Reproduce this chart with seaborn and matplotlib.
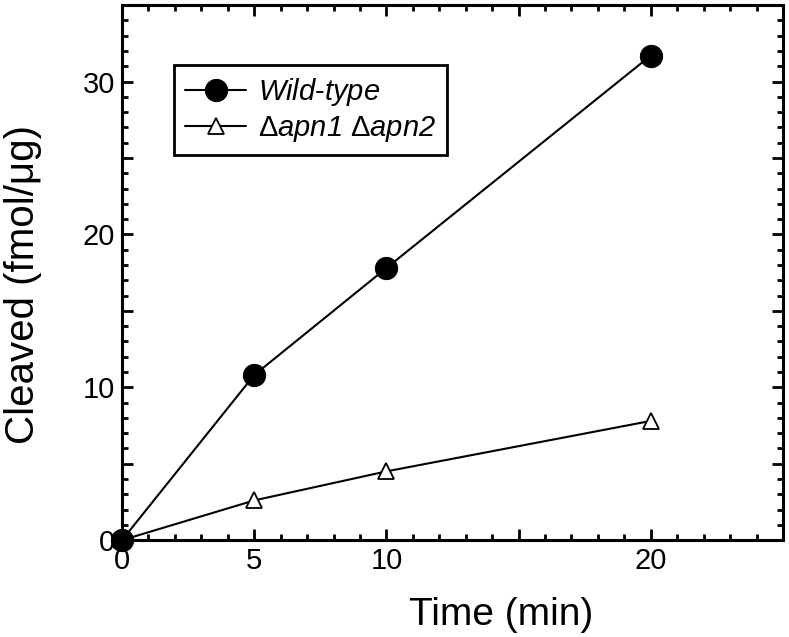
import matplotlib
matplotlib.use("Agg")
import matplotlib.pyplot as plt
import seaborn as sns
import pandas as pd
from matplotlib.ticker import MultipleLocator, FixedLocator, FixedFormatter

time = [0, 5, 10, 20]
wild_type = [0, 10.8, 17.8, 31.7]
double_mutant = [0, 2.6, 4.5, 7.8]
x_ticks = [0, 5, 10, 15, 20, 25]
x_labels = ["0", "5", "10", "", "20", ""]
y_ticks = [0, 5, 10, 15, 20, 25, 30, 35]
y_labels = ["0", "", "10", "", "20", "", "30", ""]
labels = [r"$\mathit{Wild}$-$\mathit{type}$", r"$\mathsf{\Delta}apn1\ \mathsf{\Delta}apn2$"]

sns.set_style("ticks")
plt.rcParams["font.family"] = ["Liberation Sans", "DejaVu Sans"]
plt.rcParams["mathtext.fontset"] = "custom"
plt.rcParams["mathtext.rm"] = "Liberation Sans:italic"
plt.rcParams["mathtext.it"] = "Liberation Sans:italic"
plt.rcParams["mathtext.sf"] = "Liberation Sans"
for k in ["text.color", "axes.labelcolor", "xtick.color", "ytick.color", "axes.edgecolor"]:
    plt.rcParams[k] = "black"

df = pd.concat([
    pd.DataFrame({"Time": time, "Cleaved": wild_type, "Strain": labels[0]}),
    pd.DataFrame({"Time": time, "Cleaved": double_mutant, "Strain": labels[1]}),
])

fig = plt.figure(figsize=(7.89, 6.37), dpi=100)
ax = fig.add_axes([0.1546, 0.152, 0.8378, 0.840])

sub = df[df.Strain == labels[0]]
sns.lineplot(data=sub, x="Time", y="Cleaved", ax=ax, color="black", lw=1.5,
             marker="o", markersize=16, markerfacecolor="black", markeredgecolor="black",
             label=labels[0], clip_on=False, zorder=4)
sub = df[df.Strain == labels[1]]
sns.lineplot(data=sub, x="Time", y="Cleaved", ax=ax, color="black", lw=1.5,
             marker="^", markersize=11, markerfacecolor="white", markeredgecolor="black",
             markeredgewidth=1.3, label=labels[1], clip_on=False, zorder=3)

ax.set_xlim(0, 25)
ax.set_ylim(0, 35)
ax.xaxis.set_major_locator(FixedLocator(x_ticks))
ax.xaxis.set_major_formatter(FixedFormatter(x_labels))
ax.yaxis.set_major_locator(FixedLocator(y_ticks))
ax.yaxis.set_major_formatter(FixedFormatter(y_labels))
ax.xaxis.set_minor_locator(MultipleLocator(1))
ax.yaxis.set_minor_locator(MultipleLocator(1))
ax.tick_params(which="both", direction="in", top=True, right=True, width=2, colors="black")
ax.tick_params(which="major", length=8, labelsize=21, pad=5)
ax.tick_params(which="minor", length=4)
for s in ax.spines.values():
    s.set_linewidth(2.2)
    s.set_color("black")
    s.set_visible(True)

ax.set_xlabel("Time (min)", fontsize=28)
ax.set_ylabel("Cleaved (fmol/\u03bcg)", fontsize=29)
ax.xaxis.set_label_coords(0.573, -0.106)
ax.yaxis.set_label_coords(-0.121, 0.478)

leg = ax.legend(loc="upper left", bbox_to_anchor=(0.0787, 0.888), fontsize=21,
                frameon=True, fancybox=False, edgecolor="black", framealpha=1,
                handlelength=2.1, handletextpad=0.4, borderpad=0.38, labelspacing=0.2,
                borderaxespad=0)
leg.get_frame().set_linewidth(2)

fig.savefig("out.png", dpi=100)
